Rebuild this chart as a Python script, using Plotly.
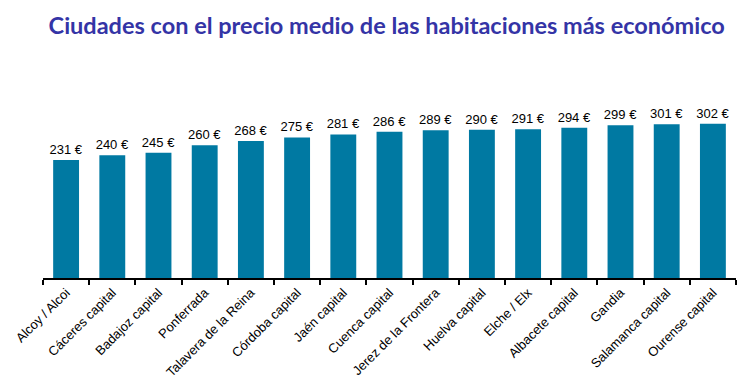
import plotly.graph_objects as go

cities = ["Alcoy / Alcoi", "Cáceres capital", "Badajoz capital", "Ponferrada",
          "Talavera de la Reina", "Córdoba capital", "Jaén capital", "Cuenca capital",
          "Jerez de la Frontera", "Huelva capital", "Elche / Elx", "Albacete capital",
          "Gandia", "Salamanca capital", "Ourense capital"]
prices = [231, 240, 245, 260, 268, 275, 281, 286, 289, 290, 291, 294, 299, 301, 302]
labels = [f"{p} €" for p in prices]

fig = go.Figure(go.Bar(
    x=cities, y=prices, text=labels, textposition="outside",
    constraintext="none",
    textfont=dict(family="Liberation Sans, Arial", size=13, color="#000000"),
    marker=dict(color="#0079a2", line=dict(width=0)),
    cliponaxis=False,
))

fig.update_layout(
    width=755, height=390,
    margin=dict(l=35, r=27, t=60, b=120, autoexpand=False),
    paper_bgcolor="white", plot_bgcolor="white",
    bargap=0.44,
    showlegend=False,
    title=dict(text="<b>Ciudades con el precio medio de las habitaciones más económico</b>",
               x=0.496, xanchor="center", xref="paper", y=0.975, yanchor="top",
               font=dict(family="Lato, Open Sans, Arial", size=23.5, color="#3434a6")),
)
fig.update_xaxes(
    showline=True, linecolor="#000000", linewidth=2,
    ticks="outside", ticklen=5, tickwidth=1.5, tickcolor="#000000",
    tickson="boundaries", tickangle=-45, automargin=False,
    tickfont=dict(family="Liberation Sans, Arial", size=13, color="#000000"),
    showgrid=False,
)
fig.update_yaxes(visible=False, range=[0, 411], showgrid=False, automargin=False)

fig.write_html("out.html")
